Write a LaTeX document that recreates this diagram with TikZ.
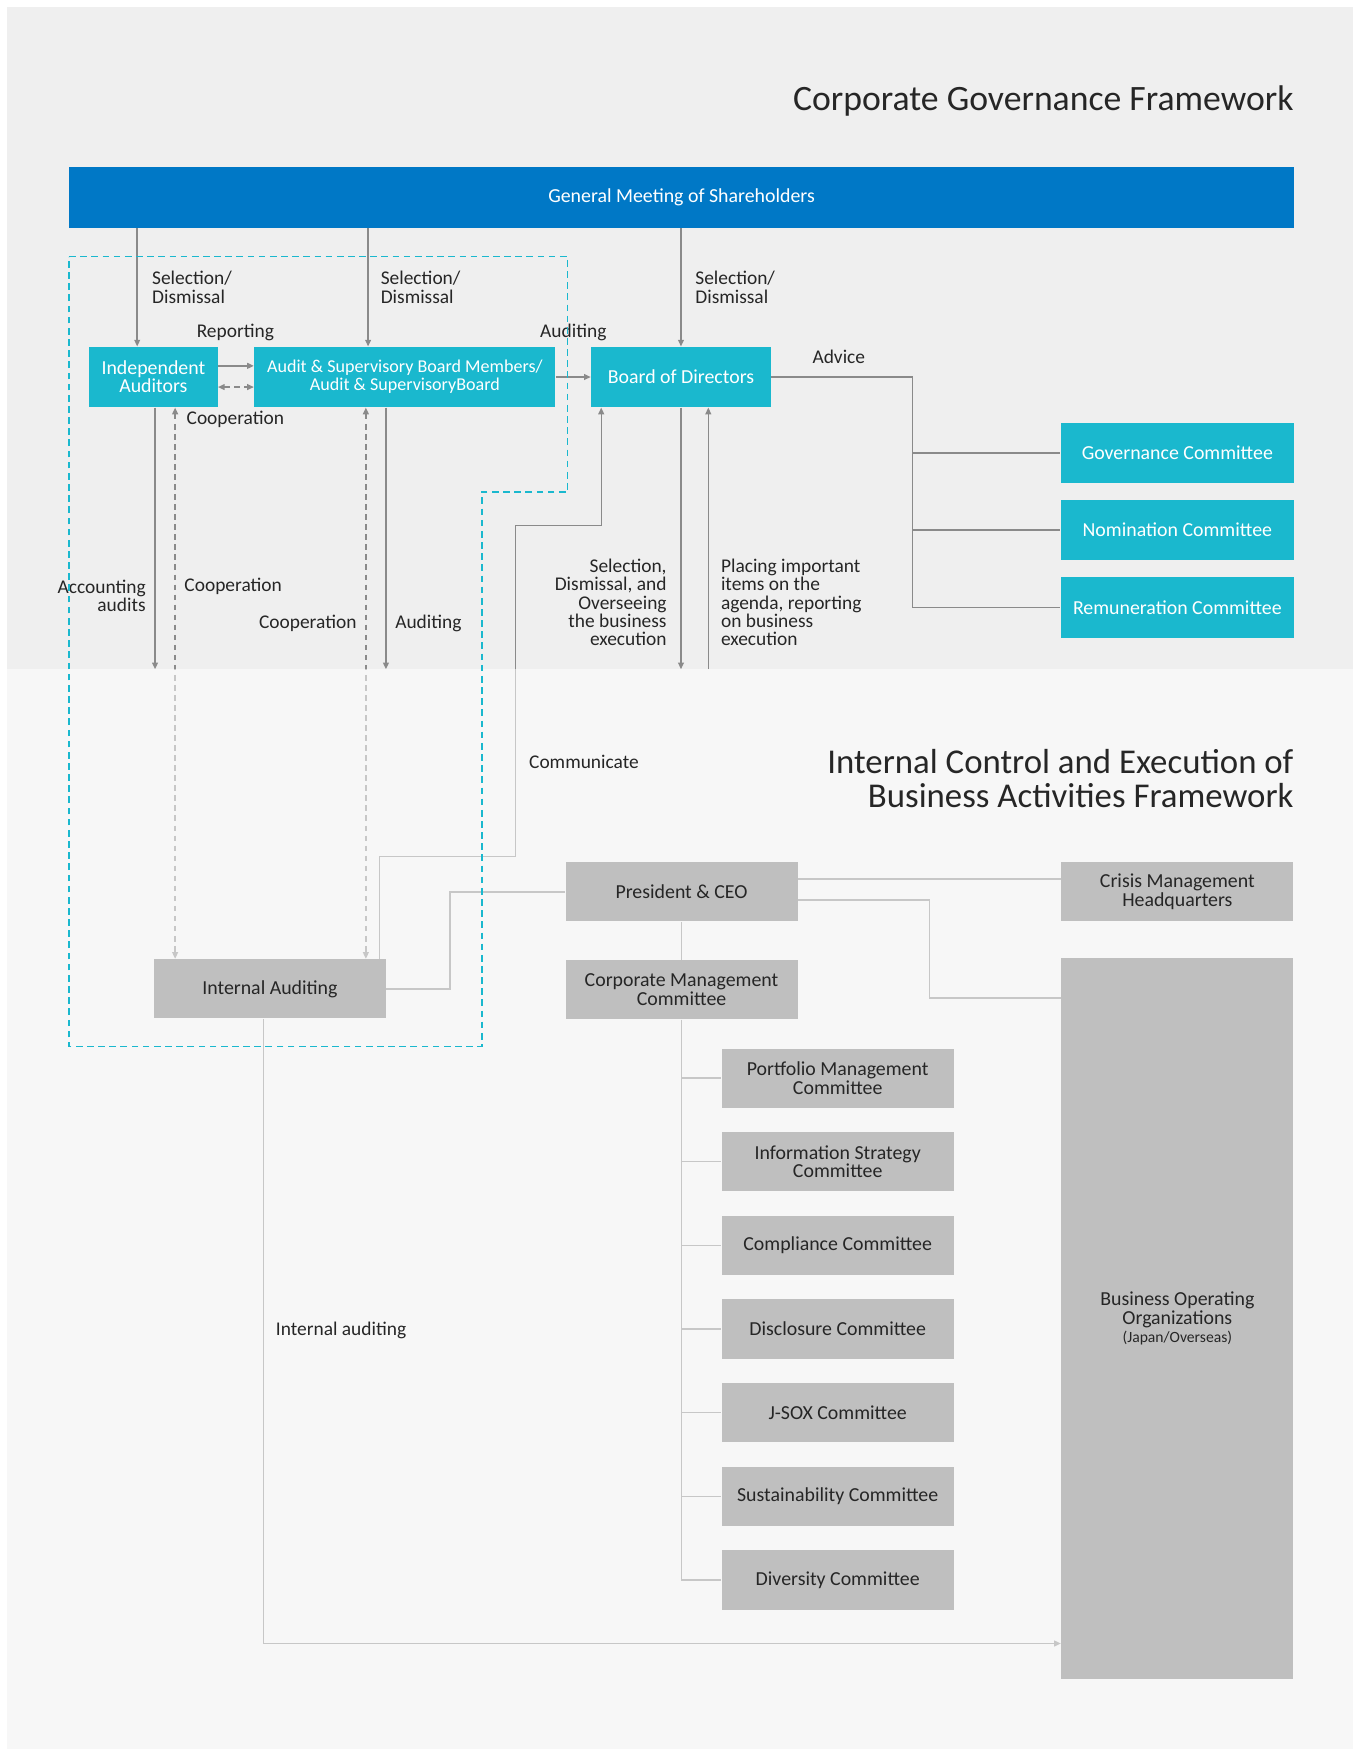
\documentclass[tikz,border=0pt]{standalone}
\usepackage{fontspec}
\setmainfont{Carlito}
\usetikzlibrary{arrows.meta,positioning,calc}
\definecolor{bgtop}{HTML}{EFEFEF}
\definecolor{gmsblue}{HTML}{0078C6}
\definecolor{boxcyan}{HTML}{1AB8CE}
\definecolor{boxgray}{HTML}{BFBFBF}
\definecolor{linegray}{HTML}{8A8A8A}
\definecolor{txtdark}{HTML}{262626}
\pgfdeclarelayer{veil}
\pgfdeclarelayer{front}
\pgfsetlayers{main,veil,front}

\begin{document}
\begin{tikzpicture}[
    x=0.5pt, y=-0.5pt,
    font=\fontsize{8.9}{8.2}\selectfont,
    node distance=0mm,
    cyanbox/.style={fill=boxcyan, text=white, minimum height=27pt, align=center, inner sep=1pt},
    graybox/.style={fill=boxgray, text=txtdark, minimum width=104pt, minimum height=26.5pt, align=center, inner sep=1pt},
    lbl/.style={text=txtdark, inner sep=0pt, font=\fontsize{8.7}{8.25}\selectfont},
    conn/.style={draw=linegray, line width=0.65pt},
    arr/.style={conn, -{Triangle[length=3pt,width=2.6pt]}},
    dbl/.style={conn, dash pattern=on 2.5pt off 2pt, {Triangle[length=3pt,width=2.6pt]}-{Triangle[length=3pt,width=2.6pt]}},
    title/.style={text=txtdark, font=\fontsize{16}{14}\selectfont, inner sep=0pt, anchor=base east}
]
\useasboundingbox (0,0) rectangle (1213,1568);
\fill[bgtop] (6,6) rectangle (1213,1568);

\begin{pgfonlayer}{veil}
\fill[white, opacity=0.52] (6,600) rectangle (1213,1568);
\end{pgfonlayer}

\begin{pgfonlayer}{front}
\node[title] (t1) at (1160,99.5) {Corporate Governance Framework};
\node[title, font=\fontsize{15.6}{14}\selectfont] (t2a) at (1160,693.5) {Internal Control and Execution of};
\node[title, font=\fontsize{15.6}{14}\selectfont] (t2b) at (1160,723.5) {Business Activities Framework};

\node[fill=gmsblue, text=white, minimum width=549pt, minimum height=27pt] (gms) at (611,177) {General Meeting of Shareholders};
\node[cyanbox, minimum width=57.5pt] (ia) at (137.5,338) {Independent\\Auditors};
\node[cyanbox, minimum width=135pt, font=\fontsize{8.1}{8}\selectfont] (asb) at (363,338) {Audit \& Supervisory Board Members/\\Audit \& SupervisoryBoard};
\node[cyanbox, minimum width=80.5pt] (bod) at (610.5,338) {Board of Directors};
\node[cyanbox, minimum width=104.5pt] (gov) at (1055.5,406) {Governance Committee};
\node[cyanbox, minimum width=104.5pt, below=7.25pt of gov] (nom) {Nomination Committee};
\node[cyanbox, minimum width=104.5pt, below=7.25pt of nom] (rem) {Remuneration Committee};

\node[graybox] (intaud) at (242,886.5) {Internal Auditing};
\node[graybox] (ceo) at (611,799.5) {President \& CEO};
\node[graybox, below=17pt of ceo] (cmc) {Corporate Management\\Committee};
\node[graybox] (cmh) at (1055.5,799.5) {Crisis Management\\Headquarters};
\node[graybox, minimum height=323pt] (boo) at (1055.5,1182) {Business Operating\\Organizations\\{\fontsize{7}{8}\selectfont (Japan/Overseas)}};
\node[graybox] (pmc) at (751,966.5) {Portfolio Management\\Committee};
\node[graybox, below=10.6pt of pmc] (isc) {Information Strategy\\Committee};
\node[graybox, below=10.6pt of isc] (cpc) {Compliance Committee};
\node[graybox, below=10.6pt of cpc] (dsc) {Disclosure Committee};
\node[graybox, below=10.6pt of dsc] (jsx) {J-SOX Committee};
\node[graybox, below=10.6pt of jsx] (sus) {Sustainability Committee};
\node[graybox, below=10.6pt of sus] (dvc) {Diversity Committee};

% labels
\node[lbl, anchor=west, align=left] at (136,257.5) {Selection/\\Dismissal};
\node[lbl, anchor=west, align=left] at (341,257.5) {Selection/\\Dismissal};
\node[lbl, anchor=west, align=left] at (623,257.5) {Selection/\\Dismissal};
\node[lbl] at (211,298) {Reporting};
\node[lbl] at (514,298) {Auditing};
\node[lbl] at (211,376) {Cooperation};
\node[lbl] at (752,320) {Advice};
\node[lbl, anchor=east, align=right] at (131,534) {Accounting\\audits};
\node[lbl, anchor=west] at (165,526) {Cooperation};
\node[lbl, anchor=east] at (320,559) {Cooperation};
\node[lbl, anchor=west] at (354,559) {Auditing};
\node[lbl, anchor=east, align=right] at (598,540) {Selection,\\Dismissal, and\\Overseeing\\the business\\execution};
\node[lbl, anchor=west, align=left] at (646,540) {Placing important\\items on the\\agenda, reporting\\on business\\execution};
\node[lbl, anchor=west] at (474,683) {Communicate};
\node[lbl, anchor=west] at (247,1193) {Internal auditing};

% audit area
\draw[draw=boxcyan, line width=0.6pt, dash pattern=on 3pt off 2pt]
  (62,230) -- (509,230) -- (509,441) -- (432,441) -- (432,938) -- (62,938) -- cycle;
\end{pgfonlayer}

\coordinate (cut) at (0,600);
\coordinate (x1) at (123,0);
\coordinate (x2) at (330,0);
\coordinate (x3) at (139,0);
\coordinate (x4) at (157,0);
\coordinate (x5) at (328,0);
\coordinate (x6) at (346,0);
\coordinate (x7) at (635,0);
\coordinate (x8) at (340,0);
\coordinate (x9) at (539,0);
\coordinate (adv) at (818,0);

\draw[arr] (gms.south -| x1) -- (ia.north -| x1);
\draw[arr] (gms.south -| x2) -- (asb.north -| x2);
\draw[arr] (gms.south -| bod.north) -- (bod.north);
\draw[arr] ([yshift=5pt]ia.east) -- ([yshift=5pt]ia.east -| asb.west);
\draw[dbl] ([yshift=-4.5pt]ia.east) -- ([yshift=-4.5pt]ia.east -| asb.west);
\draw[arr] (asb.east) -- (bod.west);

\draw[conn] (bod.east) -| (adv |- rem.west) -- (rem.west);
\foreach \c in {gov,nom}
  \draw[conn] (adv |- \c.west) -- (\c.west);

\draw[arr] (ia.south -| x3) -- (cut -| x3);
\draw[dbl] (ia.south -| x4) -- (intaud.north -| x4);
\draw[dbl] (asb.south -| x5) -- (intaud.north -| x5);
\draw[arr] (asb.south -| x6) -- (cut -| x6);
\draw[arr] (bod.south) -- (cut -| bod.south);
\draw[arr] (cut -| x7) -- (bod.south -| x7);
\draw[arr] (intaud.north -| x8) |- (462,768) |- (539,471) -- (bod.south -| x9);

\draw[conn] (ceo.west) -- ++(-51.5pt,0) |- (intaud.east);
\draw[conn] ([yshift=5.75pt]ceo.east) -- ([yshift=5.75pt]cmh.west);
\draw[conn] ([yshift=-3.75pt]ceo.east) -| ([xshift=-59pt,yshift=-18pt]boo.north west) -- ([yshift=-18pt]boo.north west);
\draw[conn] (ceo.south) -- (cmc.north);
\draw[conn] (cmc.south) |- (dvc.west);
\foreach \c in {pmc,isc,cpc,dsc,jsx,sus}
  \draw[conn] (\c.west -| cmc.south) -- (\c.west);
\draw[arr] ([xshift=-3pt]intaud.south) |- ([yshift=16pt]boo.south west);
\end{tikzpicture}
\end{document}
